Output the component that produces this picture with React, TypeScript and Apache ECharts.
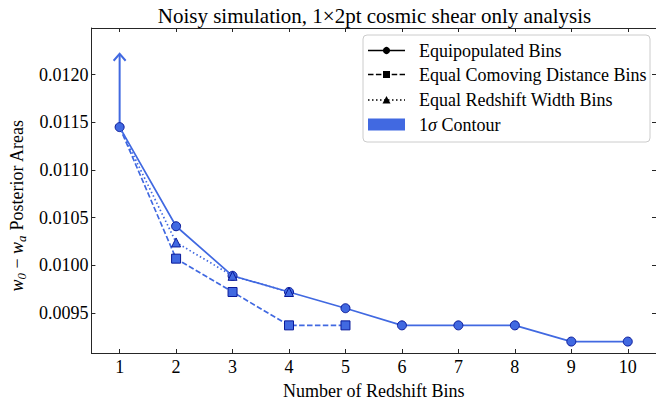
import React, { useEffect, useRef } from "react";
import * as echarts from "echarts";

const xBins = [1, 2, 3, 4, 5, 6, 7, 8, 9, 10];
const equipopulated = [0.01145, 0.01041, 0.00989, 0.00972, 0.00955, 0.00937, 0.00937, 0.00937, 0.0092, 0.0092];
const equalComoving = [0.01145, 0.01007, 0.00972, 0.00937, 0.00937];
const equalRedshift = [0.01145, 0.01024, 0.00989, 0.00972];
const arrowData = [[1, 0.01145, 0.01222]];
const yTicks = [0.0095, 0.01, 0.0105, 0.011, 0.0115, 0.012];
const xTicks = [1, 2, 3, 4, 5, 6, 7, 8, 9, 10];
const legendLabels = ["Equipopulated Bins", "Equal Comoving Distance Bins", "Equal Redshift Width Bins", "1σ Contour"];

const FONT = "'Liberation Serif', 'DejaVu Serif', serif";
const BLUE = "#4169E1";
const EDGE = "#0a1a9a";
const AX = "#262626";

export default function App() {
  const ref = useRef<HTMLDivElement>(null);
  useEffect(() => {
    if (!ref.current) return;
    const chart = echarts.init(ref.current, null, { renderer: "svg" });
    const toPts = (arr: number[]) => arr.map((v, i) => [xBins[i], v]);
    const hideFirst = (arr: number[]) =>
      toPts(arr).map((p, i) => (i === 0 ? { value: p, symbolSize: 0 } : { value: p }));

    const axisCommonX = {
      type: "value",
      min: 0.5,
      max: 10.5,
      splitLine: { show: false },
      axisLine: { show: true, onZero: false, lineStyle: { color: AX, width: 1 } },
    };
    const axisCommonY = {
      type: "value",
      min: 0.00908,
      max: 0.01249,
      splitLine: { show: false },
      axisLine: { show: true, onZero: false, lineStyle: { color: AX, width: 1 } },
    };

    const legendRows = [50.5, 74.5, 100, 124.5];
    const lx1 = 368, lx2 = 405, lxm = 386.5, ltx = 419;
    const LFS = 18;
    const graphics: any[] = [
      {
        type: "rect",
        shape: { x: 363, y: 35, width: 287, height: 107, r: 4 },
        style: { fill: "rgba(255,255,255,0.85)", stroke: "#cccccc", lineWidth: 1 },
        z: 100,
      },
      { type: "line", shape: { x1: lx1, y1: legendRows[0], x2: lx2, y2: legendRows[0] }, style: { stroke: "#000", lineWidth: 1.6 }, z: 101 },
      { type: "circle", shape: { cx: lxm, cy: legendRows[0], r: 3.6 }, style: { fill: "#000" }, z: 102 },
      { type: "line", shape: { x1: lx1, y1: legendRows[1], x2: lx2, y2: legendRows[1] }, style: { stroke: "#000", lineWidth: 1.6, lineDash: [5.5, 2.4] }, z: 101 },
      { type: "rect", shape: { x: lxm - 3.5, y: legendRows[1] - 3.5, width: 7, height: 7 }, style: { fill: "#000" }, z: 102 },
      { type: "line", shape: { x1: lx1, y1: legendRows[2], x2: lx2, y2: legendRows[2] }, style: { stroke: "#000", lineWidth: 1.6, lineDash: [1.5, 2.5] }, z: 101 },
      { type: "polygon", shape: { points: [[lxm - 4, legendRows[2] + 3.5], [lxm + 4, legendRows[2] + 3.5], [lxm, legendRows[2] - 4]] }, style: { fill: "#000" }, z: 102 },
      { type: "rect", shape: { x: lx1, y: legendRows[3] - 6, width: 37, height: 12 }, style: { fill: BLUE }, z: 101 },
    ];
    legendLabels.forEach((t, i) => {
      if (i === 3) {
        graphics.push({
          type: "text",
          x: ltx,
          y: legendRows[i],
          style: {
            text: "{n|1}{g|σ}{n| Contour}",
            verticalAlign: "middle",
            rich: {
              n: { fontFamily: FONT, fontSize: LFS, fill: "#000" },
              g: { fontFamily: FONT, fontSize: LFS, fontStyle: "italic", fill: "#000" },
            },
          },
          z: 103,
        });
      } else {
        graphics.push({
          type: "text",
          x: ltx,
          y: legendRows[i],
          style: { text: t, fontFamily: FONT, fontSize: LFS, fill: "#000", verticalAlign: "middle" },
          z: 103,
        });
      }
    });

    const symStyle = { color: BLUE, borderColor: EDGE, borderWidth: 1 };

    chart.setOption({
      animation: false,
      backgroundColor: "#fff",
      title: {
        text: "Noisy simulation, 1×2pt cosmic shear only analysis",
        left: 369.5,
        textAlign: "center",
        top: 0,
        textStyle: { fontFamily: FONT, fontSize: 21, fontWeight: "normal", color: "#000" },
      },
      grid: { left: 80, top: 28, width: 579, height: 334 },
      xAxis: [
        {
          ...axisCommonX,
          position: "bottom",
          name: "Number of Redshift Bins",
          nameLocation: "middle",
          nameGap: 29,
          nameTextStyle: { fontFamily: FONT, fontSize: 18, color: "#000" },
          axisTick: { show: true, inside: true, length: 4, customValues: xTicks, lineStyle: { color: AX } },
          axisLabel: { show: true, customValues: xTicks, fontFamily: FONT, fontSize: 18, color: "#000", margin: 5 },
        },
        {
          ...axisCommonX,
          position: "top",
          axisTick: { show: true, inside: true, length: 4, customValues: xTicks, lineStyle: { color: AX } },
          axisLabel: { show: false },
        },
      ],
      yAxis: [
        {
          ...axisCommonY,
          position: "left",
          name: "{i|w}{s|0}{n| − }{i|w}{s|a}{n| Posterior Areas}",
          nameLocation: "middle",
          nameGap: 62,
          nameTextStyle: {
            fontFamily: FONT,
            fontSize: 18,
            color: "#000",
            padding: [0, 30, 0, 0],
            rich: {
              i: { fontFamily: FONT, fontSize: 18, fontStyle: "italic", lineHeight: 22, verticalAlign: "middle", color: "#000" },
              n: { fontFamily: FONT, fontSize: 18, lineHeight: 22, verticalAlign: "middle", color: "#000" },
              s: { fontFamily: FONT, fontSize: 13, fontStyle: "italic", lineHeight: 13, verticalAlign: "bottom", color: "#000" },
            },
          },
          axisTick: { show: true, inside: true, length: 4, customValues: yTicks, lineStyle: { color: AX } },
          axisLabel: {
            show: true,
            customValues: yTicks,
            fontFamily: FONT,
            fontSize: 18,
            color: "#000",
            margin: 3,
            formatter: (v: number) => v.toFixed(4),
          },
        },
        {
          ...axisCommonY,
          position: "right",
          axisTick: { show: true, inside: true, length: 4, customValues: yTicks, lineStyle: { color: AX } },
          axisLabel: { show: false },
        },
      ],
      graphic: graphics,
      series: [
        {
          type: "custom",
          name: "arrow",
          z: 1,
          encode: { x: 0, y: 1 },
          data: arrowData,
          renderItem: (params: any, api: any) => {
            const p0 = api.coord([api.value(0), api.value(1)]);
            const p1 = api.coord([api.value(0), api.value(2)]);
            return {
              type: "group",
              children: [
                { type: "line", shape: { x1: p0[0], y1: p0[1], x2: p1[0], y2: p1[1] + 1 }, style: { stroke: BLUE, lineWidth: 2 } },
                {
                  type: "polyline",
                  shape: { points: [[p1[0] - 6, p1[1] + 7], [p1[0], p1[1]], [p1[0] + 6, p1[1] + 7]] },
                  style: { stroke: BLUE, lineWidth: 2, fill: null },
                },
              ],
            };
          },
        },
        {
          type: "line",
          name: "Equal Comoving Distance Bins",
          z: 2,
          data: hideFirst(equalComoving),
          symbol: "rect",
          symbolSize: 9,
          lineStyle: { color: BLUE, width: 1.7, type: [5.5, 2.4] },
          itemStyle: symStyle,
        },
        {
          type: "line",
          name: "Equipopulated Bins",
          z: 3,
          data: toPts(equipopulated),
          symbol: "circle",
          symbolSize: 9,
          lineStyle: { color: BLUE, width: 1.7 },
          itemStyle: symStyle,
        },
        {
          type: "line",
          name: "Equal Redshift Width Bins",
          z: 4,
          data: hideFirst(equalRedshift),
          symbol: "triangle",
          symbolSize: 9,
          lineStyle: { color: BLUE, width: 1.7, type: [1.5, 2.5] },
          itemStyle: symStyle,
        },
      ],
    });
    return () => chart.dispose();
  }, []);
  return (
    <div
      ref={ref}
      style={{ position: "absolute", left: 0, top: 0, width: 656, height: 405 }}
    />
  );
}
